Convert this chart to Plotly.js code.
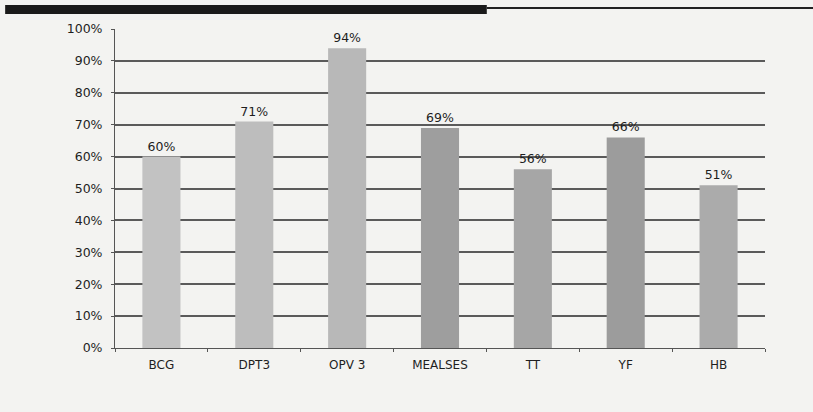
<!DOCTYPE html>
<html>
<head>
<meta charset="utf-8">
<script src="https://cdn.plot.ly/plotly-3.0.1.min.js"></script>
<style>html,body{margin:0;padding:0;background:#f3f3f1;}#chart{width:813px;height:412px;}</style>
</head>
<body>
<div id="chart"></div>
<script>
const categories = ["BCG", "DPT3", "OPV 3", "MEALSES", "TT", "YF", "HB"];
const coverage = [60, 71, 94, 69, 56, 66, 51];
const yTickVals = [0, 10, 20, 30, 40, 50, 60, 70, 80, 90, 100];
const yTickText = ["0%", "10%", "20%", "30%", "40%", "50%", "60%", "70%", "80%", "90%", "100%"];
const barColors = ["#c2c2c2", "#bdbdbd", "#b8b8b8", "#9e9e9e", "#a6a6a6", "#9c9c9c", "#ababab"];

const trace = {
  type: "bar",
  x: categories,
  y: coverage,
  marker: {color: barColors, line: {width: 0}},
  text: coverage.map(v => v + "%"),
  textposition: "outside",
  textfont: {family: "DejaVu Sans", size: 12.5, color: "#1e1e1e"},
  cliponaxis: false,
  hoverinfo: "x+y"
};

const layout = {
  width: 813, height: 412,
  margin: {l: 115, r: 48, t: 29, b: 64},
  paper_bgcolor: "#f3f3f1",
  plot_bgcolor: "#f3f3f1",
  bargap: 0.59,
  showlegend: false,
  font: {family: "DejaVu Sans", size: 12, color: "#1e1e1e"},
  xaxis: {
    type: "category",
    showgrid: false,
    showline: true, linecolor: "#555", linewidth: 1,
    ticks: "outside", tickson: "boundaries", ticklen: 3, tickcolor: "#555",
    ticklabelstandoff: 6,
    tickfont: {family: "DejaVu Sans", size: 12, color: "#1e1e1e"}
  },
  yaxis: {
    range: [0, 100],
    tickvals: yTickVals, ticktext: yTickText,
    showgrid: true, gridcolor: "#5a5a5a", gridwidth: 2,
    showline: true, linecolor: "#555", linewidth: 1,
    ticks: "outside", ticklen: 3, tickcolor: "#555",
    ticklabelstandoff: 6,
    zeroline: false,
    tickfont: {family: "DejaVu Sans", size: 12.5, color: "#1e1e1e"}
  },
  shapes: [
    {type: "rect", xref: "paper", yref: "paper", x0: -0.169, x1: 0.572, y0: 1.047, y1: 1.075,
     fillcolor: "#1a1a1a", line: {width: 0}},
    {type: "line", xref: "paper", yref: "paper", x0: 0.572, x1: 1.08, y0: 1.066, y1: 1.066,
     line: {color: "#222", width: 2}}
  ]
};

Plotly.newPlot("chart", [trace], layout, {staticPlot: true});
</script>
</body>
</html>
